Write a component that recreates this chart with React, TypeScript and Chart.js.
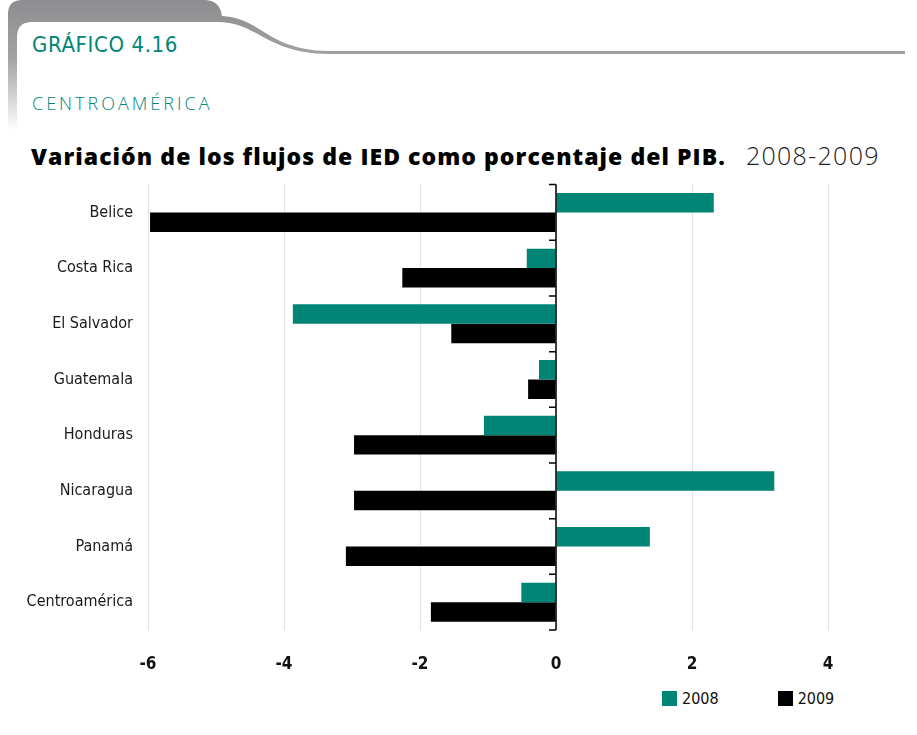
import React, { useEffect, useRef } from "react";
import { Chart, registerables } from "chart.js";

Chart.register(...registerables);

const categories = ["Belice", "Costa Rica", "El Salvador", "Guatemala", "Honduras", "Nicaragua", "Panamá", "Centroamérica"];
const values2008 = [2.32, -0.43, -3.87, -0.25, -1.06, 3.21, 1.38, -0.51];
const values2009 = [-5.97, -2.26, -1.54, -0.41, -2.97, -2.97, -3.09, -1.84];
const seriesLabels = ["2008", "2009"];
const xTicks = [-6, -4, -2, 0, 2, 4];

const TEAL = "#008577";
const NARROW = "'Liberation Sans Narrow', 'DejaVu Sans Condensed', sans-serif";

const zeroAxisPlugin = {
  id: "zeroAxis",
  afterDatasetsDraw(chart: any) {
    const { ctx, chartArea, scales } = chart;
    const x0 = scales.x.getPixelForValue(0);
    const n = categories.length;
    ctx.save();
    ctx.strokeStyle = "#000";
    ctx.lineWidth = 1.5;
    ctx.beginPath();
    ctx.moveTo(x0, chartArea.top);
    ctx.lineTo(x0, chartArea.bottom);
    for (let i = 0; i <= n; i++) {
      const y = chartArea.top + (i * (chartArea.bottom - chartArea.top)) / n;
      ctx.moveTo(x0 - 7, y);
      ctx.lineTo(x0, y);
    }
    ctx.stroke();
    ctx.restore();
  },
};

function Header() {
  return (
    <svg width={917} height={130} style={{ position: "absolute", left: 0, top: 0 }}>
      <defs>
        <linearGradient id="g" x1="0" y1="0" x2="0" y2="130" gradientUnits="userSpaceOnUse">
          <stop offset="0" stopColor="#8e8e90" />
          <stop offset="0.45" stopColor="#a2a2a4" />
          <stop offset="1" stopColor="#ffffff" />
        </linearGradient>
      </defs>
      <path
        d="M8,130 L8,14 Q8,0 22,0 L204,0 Q220,0 222,16 C262,18 268,51 330,51 L905,51 L905,54 L330,54 C266,54 258,22 218,22 L32,22 Q17,22 17,37 L17,130 Z"
        fill="url(#g)"
      />
    </svg>
  );
}

export default function App() {
  const canvasRef = useRef<HTMLCanvasElement | null>(null);

  useEffect(() => {
    const chart = new Chart(canvasRef.current as HTMLCanvasElement, {
      type: "bar",
      data: {
        labels: categories,
        datasets: [
          { label: seriesLabels[0], data: values2008, backgroundColor: TEAL },
          { label: seriesLabels[1], data: values2009, backgroundColor: "#000000" },
        ],
      },
      options: {
        indexAxis: "y",
        animation: false,
        responsive: false,
        maintainAspectRatio: false,
        layout: { padding: { top: 10, right: 89, bottom: 0, left: 0 } },
        datasets: { bar: { categoryPercentage: 0.7, barPercentage: 1.0 } },
        plugins: { legend: { display: false }, tooltip: { enabled: false } },
        scales: {
          x: {
            type: "linear",
            min: -6,
            max: 4,
            afterBuildTicks: (s: any) => {
              s.ticks = xTicks.map((v) => ({ value: v }));
            },
            afterFit: (s: any) => {
              s.height = 50;
            },
            grid: { color: "#e2e2e2", lineWidth: 1, drawTicks: false },
            border: { display: false },
            ticks: {
              padding: 24,
              color: "#111",
              font: { family: NARROW, size: 17, weight: "bold" },
            },
          },
          y: {
            type: "category",
            afterFit: (s: any) => {
              s.width = 148;
            },
            grid: { display: false, drawTicks: false },
            border: { display: false },
            ticks: {
              padding: 15,
              color: "#1a1a1a",
              font: { family: NARROW, size: 16 },
            },
          },
        },
      },
      plugins: [zeroAxisPlugin],
    } as any);
    return () => chart.destroy();
  }, []);

  return (
    <div style={{ position: "fixed", left: 0, top: 0, width: 917, height: 735, background: "#fff", overflow: "hidden" }}>
      <Header />
      <div style={{ position: "absolute", left: 32, top: 32, fontFamily: NARROW, fontSize: 22, color: TEAL, letterSpacing: 0.6 }}>
        GRÁFICO 4.16
      </div>
      <div style={{ position: "absolute", left: 32, top: 91, fontFamily: "'Open Sans', sans-serif", fontWeight: 300, fontSize: 18, color: TEAL, letterSpacing: 3 }}>
        CENTROAMÉRICA
      </div>
      <div style={{ position: "absolute", left: 31, top: 138, whiteSpace: "nowrap", color: "#000" }}>
        <span style={{ fontFamily: "'Open Sans', sans-serif", fontWeight: 800, fontSize: 23, letterSpacing: 1.05 }}>
          Variación de los flujos de IED como porcentaje del PIB.
        </span>
        <span style={{ fontFamily: "'Open Sans', sans-serif", fontWeight: 300, fontSize: 25, marginLeft: 20, color: "#222", letterSpacing: 1.3 }}>
          2008-2009
        </span>
      </div>
      <canvas ref={canvasRef} width={917} height={520} style={{ position: "absolute", left: 0, top: 160, width: 917, height: 520 }} />
      <div style={{ position: "absolute", left: 662, top: 689, display: "flex", alignItems: "center", fontFamily: NARROW, fontSize: 16, color: "#111" }}>
        <span style={{ display: "inline-block", width: 15, height: 15, background: TEAL, marginRight: 5 }} />
        <span>{seriesLabels[0]}</span>
        <span style={{ display: "inline-block", width: 15, height: 15, background: "#000", marginLeft: 59, marginRight: 5 }} />
        <span>{seriesLabels[1]}</span>
      </div>
    </div>
  );
}
